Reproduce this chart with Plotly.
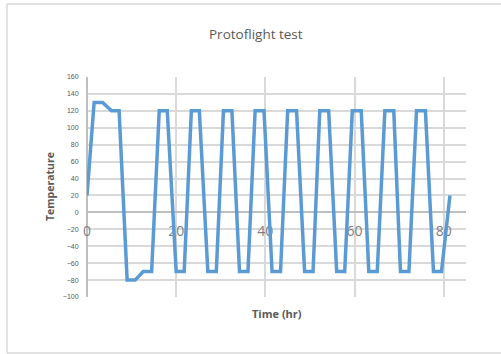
import plotly.graph_objects as go

# Thermal cycling profile: time (hr) vs temperature
time_hr = [0, 1.6, 3.5, 5.5, 7.2, 9.0, 10.8, 12.6, 14.5,
           16.2, 18.0, 20.0, 21.8, 23.4, 25.2, 27.1, 29.0,
           30.6, 32.5, 34.2, 36.1, 37.7, 39.7, 41.5, 43.4,
           45.0, 47.0, 48.8, 50.7, 52.2, 54.2, 56.0, 57.8,
           59.5, 61.5, 63.2, 65.1, 66.8, 68.8, 70.3, 72.2,
           73.9, 75.9, 77.7, 79.5, 81.4]
temperature = [20, 130, 130, 120, 120, -80, -80, -70, -70,
               120, 120, -70, -70, 120, 120, -70, -70,
               120, 120, -70, -70, 120, 120, -70, -70,
               120, 120, -70, -70, 120, 120, -70, -70,
               120, 120, -70, -70, 120, 120, -70, -70,
               120, 120, -70, -70, 20]

x_ticks = [0, 20, 40, 60, 80]
y_ticks = list(range(-100, 161, 20))

title_text = "Protoflight test"
x_title = "Time (hr)"
y_title = "Temperature"

GRID = "#d9d9d9"
TEXT = "#595959"
FONT = "Open Sans, Liberation Sans, sans-serif"

fig = go.Figure()

# x tick labels sit next to the horizontal axis crossing at zero,
# drawn first so the data line passes over them
fig.add_trace(go.Scatter(
    x=x_ticks, y=[-24] * len(x_ticks), mode="text",
    text=[str(v) for v in x_ticks], textposition="middle center",
    textfont=dict(size=14, color="#7f7f7f", family=FONT),
    cliponaxis=False, hoverinfo="skip", showlegend=False,
))
fig.add_trace(go.Scatter(
    x=time_hr, y=temperature, mode="lines",
    line=dict(color="#5b9bd5", width=3.5),
    hoverinfo="x+y", showlegend=False,
))

L, R, T, B = 87, 35, 77, 57
W, H = 501, 354

fig.update_layout(
    width=W, height=H,
    margin=dict(l=L, r=R, t=T, b=B, pad=0),
    paper_bgcolor="white", plot_bgcolor="white",
    font=dict(family=FONT, color=TEXT),
    xaxis=dict(
        range=[0, 85], tickvals=x_ticks, showticklabels=False,
        showgrid=True, gridcolor=GRID, gridwidth=1.5,
        zeroline=True, zerolinecolor="#bfbfbf", zerolinewidth=1.5,
        showline=False, ticks="",
    ),
    yaxis=dict(
        range=[-100, 160], tickvals=y_ticks,
        tickfont=dict(size=7, color=TEXT, family="Liberation Sans, sans-serif"),
        showgrid=True, gridcolor=GRID, gridwidth=1.5,
        zeroline=True, zerolinecolor="#bfbfbf", zerolinewidth=1.5,
        showline=False, ticks="outside", ticklen=6, tickcolor="rgba(0,0,0,0)",
    ),
    showlegend=False,
)

plot_w = W - L - R
plot_h = H - T - B

def px_x(p):
    return (p - L) / plot_w

def px_y(p):
    return (H - B - p) / plot_h

fig.add_annotation(x=px_x(256), y=px_y(34), xref="paper", yref="paper",
                   text=title_text, showarrow=False,
                   xanchor="center", yanchor="middle",
                   font=dict(size=13.5, color=TEXT, family=FONT))
fig.add_annotation(x=px_x(277), y=px_y(313), xref="paper", yref="paper",
                   text="<b>" + x_title + "</b>", showarrow=False,
                   xanchor="center", yanchor="middle",
                   font=dict(size=11, color=TEXT, family=FONT))
fig.add_annotation(x=px_x(50), y=px_y(187), xref="paper", yref="paper",
                   text="<b>" + y_title + "</b>", showarrow=False, textangle=-90,
                   xanchor="center", yanchor="middle",
                   font=dict(size=10.5, color=TEXT, family=FONT))

# outer chart frame: left, top and bottom edges (right edge lies off-page)
frame = dict(color="#d9d9d9", width=1.5)
for x0, y0, x1, y1 in [(7, 4, 7, 353), (7, 4, 510, 4), (7, 353, 510, 353)]:
    fig.add_shape(type="line", xref="paper", yref="paper",
                  x0=px_x(x0), x1=px_x(x1), y0=px_y(y0), y1=px_y(y1),
                  line=frame, layer="below")

fig.write_html("out.html")
